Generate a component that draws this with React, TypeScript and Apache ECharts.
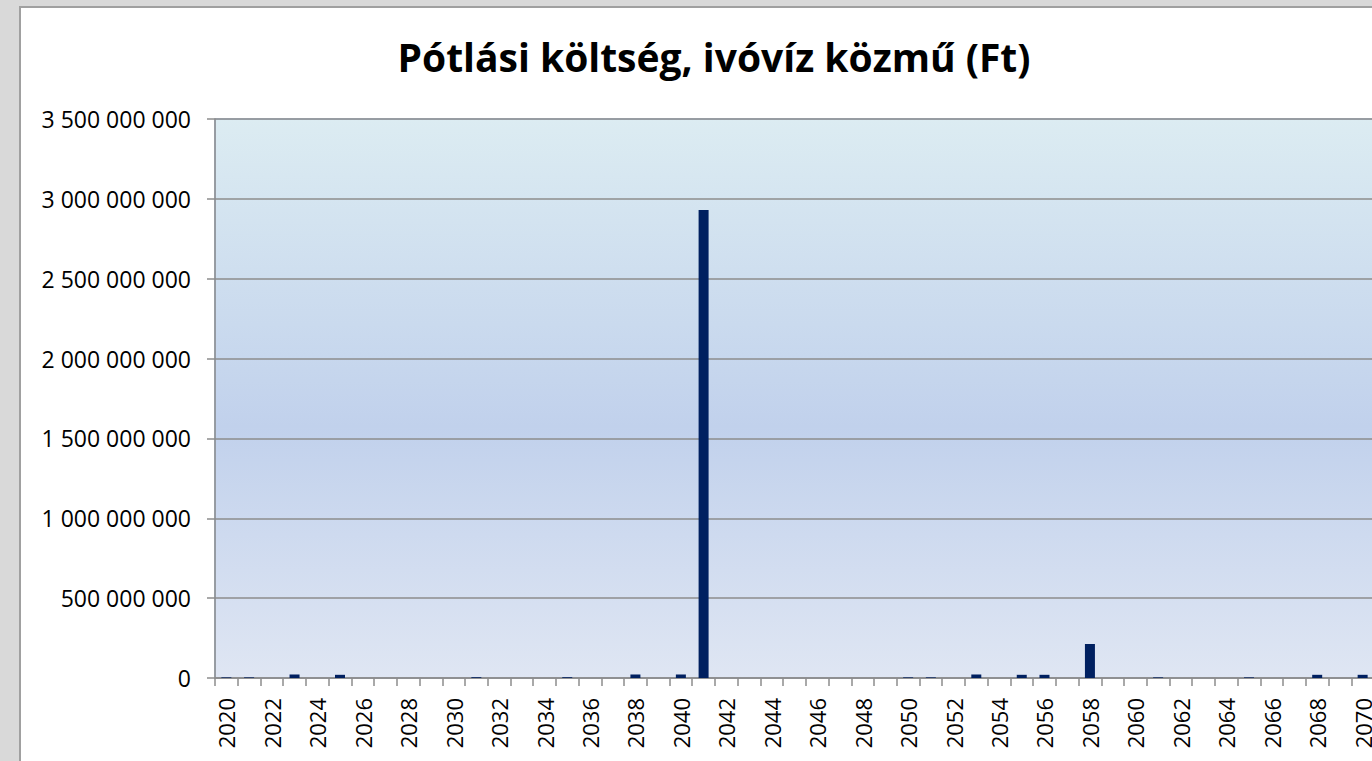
import React, { useEffect, useRef } from "react";
import * as echarts from "echarts";

const TITLE = "Pótlási költség, ivóvíz közmű (Ft)";

const years: string[] = [
  "2020", "2021", "2022", "2023", "2024", "2025", "2026", "2027", "2028", "2029",
  "2030", "2031", "2032", "2033", "2034", "2035", "2036", "2037", "2038", "2039",
  "2040", "2041", "2042", "2043", "2044", "2045", "2046", "2047", "2048", "2049",
  "2050", "2051", "2052", "2053", "2054", "2055", "2056", "2057", "2058", "2059",
  "2060", "2061", "2062", "2063", "2064", "2065", "2066", "2067", "2068", "2069",
  "2070",
];

const costs: number[] = [
  4000000, 4000000, 0, 22000000, 0, 20000000, 0, 0, 0, 0,
  0, 5000000, 0, 0, 0, 5000000, 0, 0, 22000000, 0,
  22000000, 2930000000, 0, 0, 0, 0, 0, 0, 0, 0,
  4000000, 4000000, 0, 22000000, 0, 20000000, 20000000, 0, 213000000, 0,
  0, 4000000, 0, 0, 0, 4000000, 0, 0, 20000000, 0,
  20000000,
];

const yMin = 0;
const yMax = 3500000000;
const yStep = 500000000;

const FONT = "'Open Sans', 'Noto Sans', sans-serif";

function fmt(v: number): string {
  return String(Math.round(v)).replace(/\B(?=(\d{3})+(?!\d))/g, " ");
}

export default function App() {
  const ref = useRef<HTMLDivElement>(null);
  useEffect(() => {
    if (!ref.current) return;
    const chart = echarts.init(ref.current, undefined, { renderer: "svg" });
    chart.setOption({
      animation: false,
      backgroundColor: "#ffffff",
      title: {
        text: TITLE,
        left: 688,
        top: 24,
        textAlign: "center",
        textStyle: {
          fontFamily: FONT,
          fontWeight: "bold",
          fontSize: 39,
          color: "#000000",
        },
      },
      grid: {
        left: 194,
        top: 111,
        width: 1159,
        height: 559,
        show: true,
        borderColor: "#a6bde0",
        borderWidth: 1.5,
        backgroundColor: new echarts.graphic.LinearGradient(0, 0, 0, 1, [
          { offset: 0, color: "#dcecf2" },
          { offset: 0.55, color: "#c1d1ec" },
          { offset: 1, color: "#dfe6f3" },
        ]),
      },
      xAxis: {
        type: "category",
        data: years,
        boundaryGap: true,
        axisLine: { show: true, lineStyle: { color: "#8c8c8c", width: 1.5 } },
        axisTick: {
          show: true,
          interval: 0,
          alignWithLabel: false,
          length: 8,
          lineStyle: { color: "#8c8c8c", width: 1.5 },
        },
        axisLabel: {
          interval: 1,
          rotate: 90,
          margin: 20,
          fontFamily: FONT,
          fontSize: 22,
          color: "#000000",
        },
        splitLine: { show: false },
      },
      yAxis: {
        type: "value",
        min: yMin,
        max: yMax,
        interval: yStep,
        axisLine: { show: true, lineStyle: { color: "#8c8c8c", width: 1.5 } },
        axisTick: { show: true, length: 8, lineStyle: { color: "#8c8c8c", width: 1.5 } },
        axisLabel: {
          margin: 24,
          fontFamily: FONT,
          fontSize: 23,
          color: "#000000",
          formatter: (v: number) => fmt(v),
        },
        splitLine: { show: true, lineStyle: { color: "#8c8c8c", width: 1.5 } },
      },
      series: [
        {
          type: "bar",
          data: costs,
          barWidth: "44%",
          itemStyle: { color: "#002060" },
        },
      ],
    });
    return () => chart.dispose();
  }, []);

  return (
    <div
      style={{
        position: "fixed",
        left: 0,
        top: 0,
        width: 1372,
        height: 761,
        overflow: "hidden",
        background: "#d9d9d9",
      }}
    >
      <div
        style={{
          position: "absolute",
          left: 19,
          top: 6,
          width: 1380,
          height: 800,
          border: "2px solid #a0a0a0",
          background: "#ffffff",
        }}
      >
        <div ref={ref} style={{ width: 1380, height: 800 }} />
      </div>
    </div>
  );
}
